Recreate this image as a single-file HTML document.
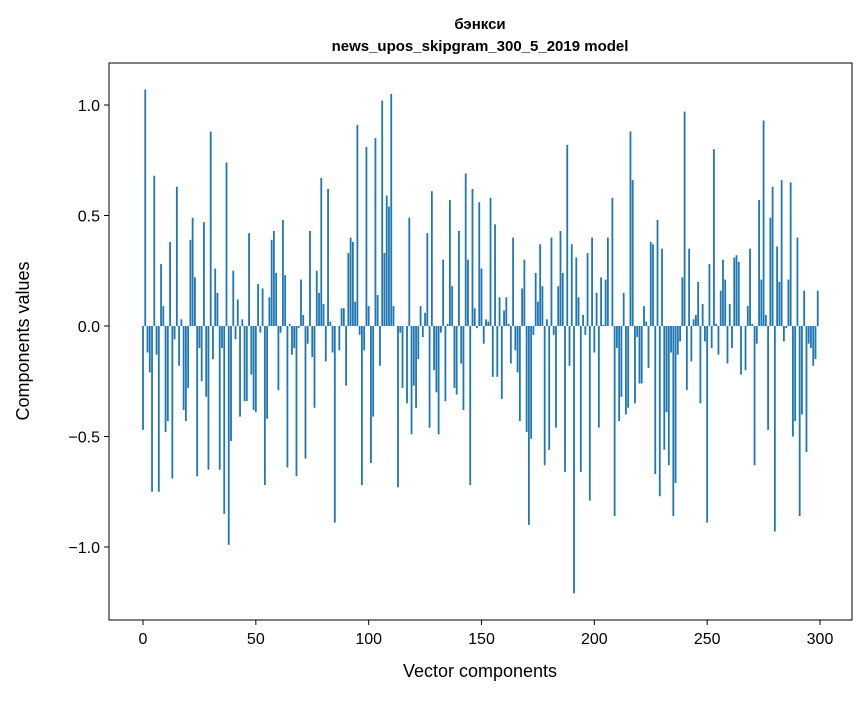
<!DOCTYPE html>
<html><head><meta charset="utf-8"><style>
body{margin:0;background:#fff;}
svg text{font-family:"Liberation Sans","DejaVu Sans",sans-serif;fill:#000;}
</style></head><body>
<svg id="chart" width="867" height="696" xmlns="http://www.w3.org/2000/svg">
<rect width="867" height="696" fill="#fff"/>
<text x="480" y="29" text-anchor="middle" font-size="15" font-weight="bold">бэнкси</text>
<text x="480" y="51" text-anchor="middle" font-size="15" font-weight="bold">news_upos_skipgram_300_5_2019 model</text>
<g id="bars"></g>
<g id="axes"></g>
<text x="480" y="677" text-anchor="middle" font-size="18">Vector components</text>
<text transform="translate(29,341) rotate(-90)" text-anchor="middle" font-size="18">Components values</text>
</svg>
<script>
const values = [
-0.47,1.07,-0.12,-0.21,-0.75,0.68,-0.13,-0.75,0.28,0.09,
-0.48,-0.43,0.38,-0.69,-0.06,0.63,-0.18,0.03,-0.38,-0.43,
-0.28,0.39,0.49,0.22,-0.68,-0.10,-0.25,0.47,-0.32,-0.65,
0.88,-0.15,0.26,0.15,-0.65,-0.10,-0.85,0.74,-0.99,-0.52,
0.25,-0.06,0.12,-0.41,0.03,-0.34,-0.34,0.42,-0.22,-0.38,
-0.39,0.19,-0.03,0.17,-0.72,-0.42,0.13,0.39,0.43,0.24,
-0.29,-0.03,0.48,0.23,-0.64,0.01,-0.13,-0.10,-0.68,-0.01,
0.21,0.05,-0.60,-0.08,0.43,-0.14,-0.37,0.25,0.15,0.67,
0.10,-0.16,0.62,0.02,-0.12,-0.89,0.00,-0.11,0.08,0.08,
-0.27,0.33,0.40,0.38,0.11,0.91,-0.04,-0.72,-0.11,0.81,
0.09,-0.62,-0.41,0.85,0.14,-0.18,1.02,0.33,0.59,0.54,
1.05,0.09,0.00,-0.73,-0.03,-0.28,0.00,-0.35,0.49,-0.49,
-0.27,-0.37,-0.15,0.09,-0.05,0.06,0.42,-0.46,0.61,-0.20,
-0.30,-0.49,-0.03,0.30,-0.34,0.01,0.57,0.18,-0.28,-0.31,
0.43,-0.17,-0.38,0.69,0.30,-0.72,0.62,0.08,-0.01,0.56,
0.26,-0.08,0.03,0.02,0.58,-0.23,0.46,-0.23,0.13,-0.33,
0.07,0.13,0.01,-0.17,0.40,-0.11,-0.21,-0.43,0.17,0.30,
-0.48,-0.90,-0.51,-0.04,0.24,0.11,0.37,0.18,-0.63,0.03,
-0.56,0.40,-0.04,-0.46,0.18,0.43,0.24,-0.66,0.82,-0.18,
0.37,-1.21,0.31,0.13,-0.66,0.05,-0.04,0.33,-0.79,0.40,
-0.12,0.15,-0.46,0.22,0.005,0.21,0.40,0.00,0.58,-0.86,
-0.10,-0.43,-0.32,0.15,-0.40,-0.37,0.88,0.66,-0.35,-0.05,
-0.26,-0.26,0.09,0.02,-0.19,0.38,0.37,-0.67,0.48,-0.77,
0.35,-0.56,-0.39,-0.63,-0.12,-0.86,-0.71,-0.13,-0.07,0.22,
0.97,-0.29,0.35,-0.16,0.03,0.05,0.20,-0.35,0.10,-0.07,
-0.89,0.28,-0.10,0.80,0.01,-0.13,0.16,0.30,0.21,-0.17,
0.10,-0.10,0.31,0.32,0.29,-0.22,0.00,-0.20,0.09,0.35,
0.01,-0.63,-0.08,0.57,0.21,0.93,0.05,-0.47,0.49,0.63,
-0.93,0.36,0.20,0.66,-0.07,-0.01,0.21,0.65,-0.50,-0.43,
0.40,-0.86,-0.40,0.16,-0.57,-0.08,-0.10,-0.18,-0.15,0.16
];
const xTicks = [0,50,100,150,200,250,300];
const yTicks = [-1.0,-0.5,0.0,0.5,1.0];
const yTickLabels = ["\u22121.0","\u22120.5","0.0","0.5","1.0"];

const L=109,R=852,T=63,B=620;
function xs(v){return 143+v*(677/300);}
function ys(v){return 326-v*221;}
const NS='http://www.w3.org/2000/svg';
const bars=document.getElementById('bars');
values.forEach((v,i)=>{
  const r=document.createElementNS(NS,'rect');
  const w=0.8*(677/300);
  r.setAttribute('x',xs(i)-w/2);
  r.setAttribute('width',w);
  r.setAttribute('y',Math.min(ys(v),ys(0)));
  r.setAttribute('height',Math.abs(ys(v)-ys(0)));
  r.setAttribute('fill','#1f77b4');
  
  
  bars.appendChild(r);
});
const ax=document.getElementById('axes');
const frame=document.createElementNS(NS,'rect');
frame.setAttribute('x',L);frame.setAttribute('y',T);
frame.setAttribute('width',R-L);frame.setAttribute('height',B-T);
frame.setAttribute('fill','none');frame.setAttribute('stroke','#000');frame.setAttribute('stroke-width','1');


ax.appendChild(frame);
xTicks.forEach(t=>{
  const l=document.createElementNS(NS,'line');
  l.setAttribute('x1',xs(t));l.setAttribute('x2',xs(t));l.setAttribute('y1',B);l.setAttribute('y2',B+5);
  l.setAttribute('stroke','#000');
  
  
  ax.appendChild(l);
  const tx=document.createElementNS(NS,'text');
  tx.setAttribute('x',xs(t));tx.setAttribute('y',B+24);tx.setAttribute('text-anchor','middle');tx.setAttribute('font-size','16');
  tx.textContent=t;
  
  
  ax.appendChild(tx);
});
yTicks.forEach((t,k)=>{
  const l=document.createElementNS(NS,'line');
  l.setAttribute('x1',L-5);l.setAttribute('x2',L);l.setAttribute('y1',ys(t));l.setAttribute('y2',ys(t));
  l.setAttribute('stroke','#000');
  
  
  ax.appendChild(l);
  const tx=document.createElementNS(NS,'text');
  tx.setAttribute('x',L-9);tx.setAttribute('y',ys(t)+6);tx.setAttribute('text-anchor','end');tx.setAttribute('font-size','16');
  tx.textContent=yTickLabels[k];
  
  
  ax.appendChild(tx);
});
</script>
</body></html>
